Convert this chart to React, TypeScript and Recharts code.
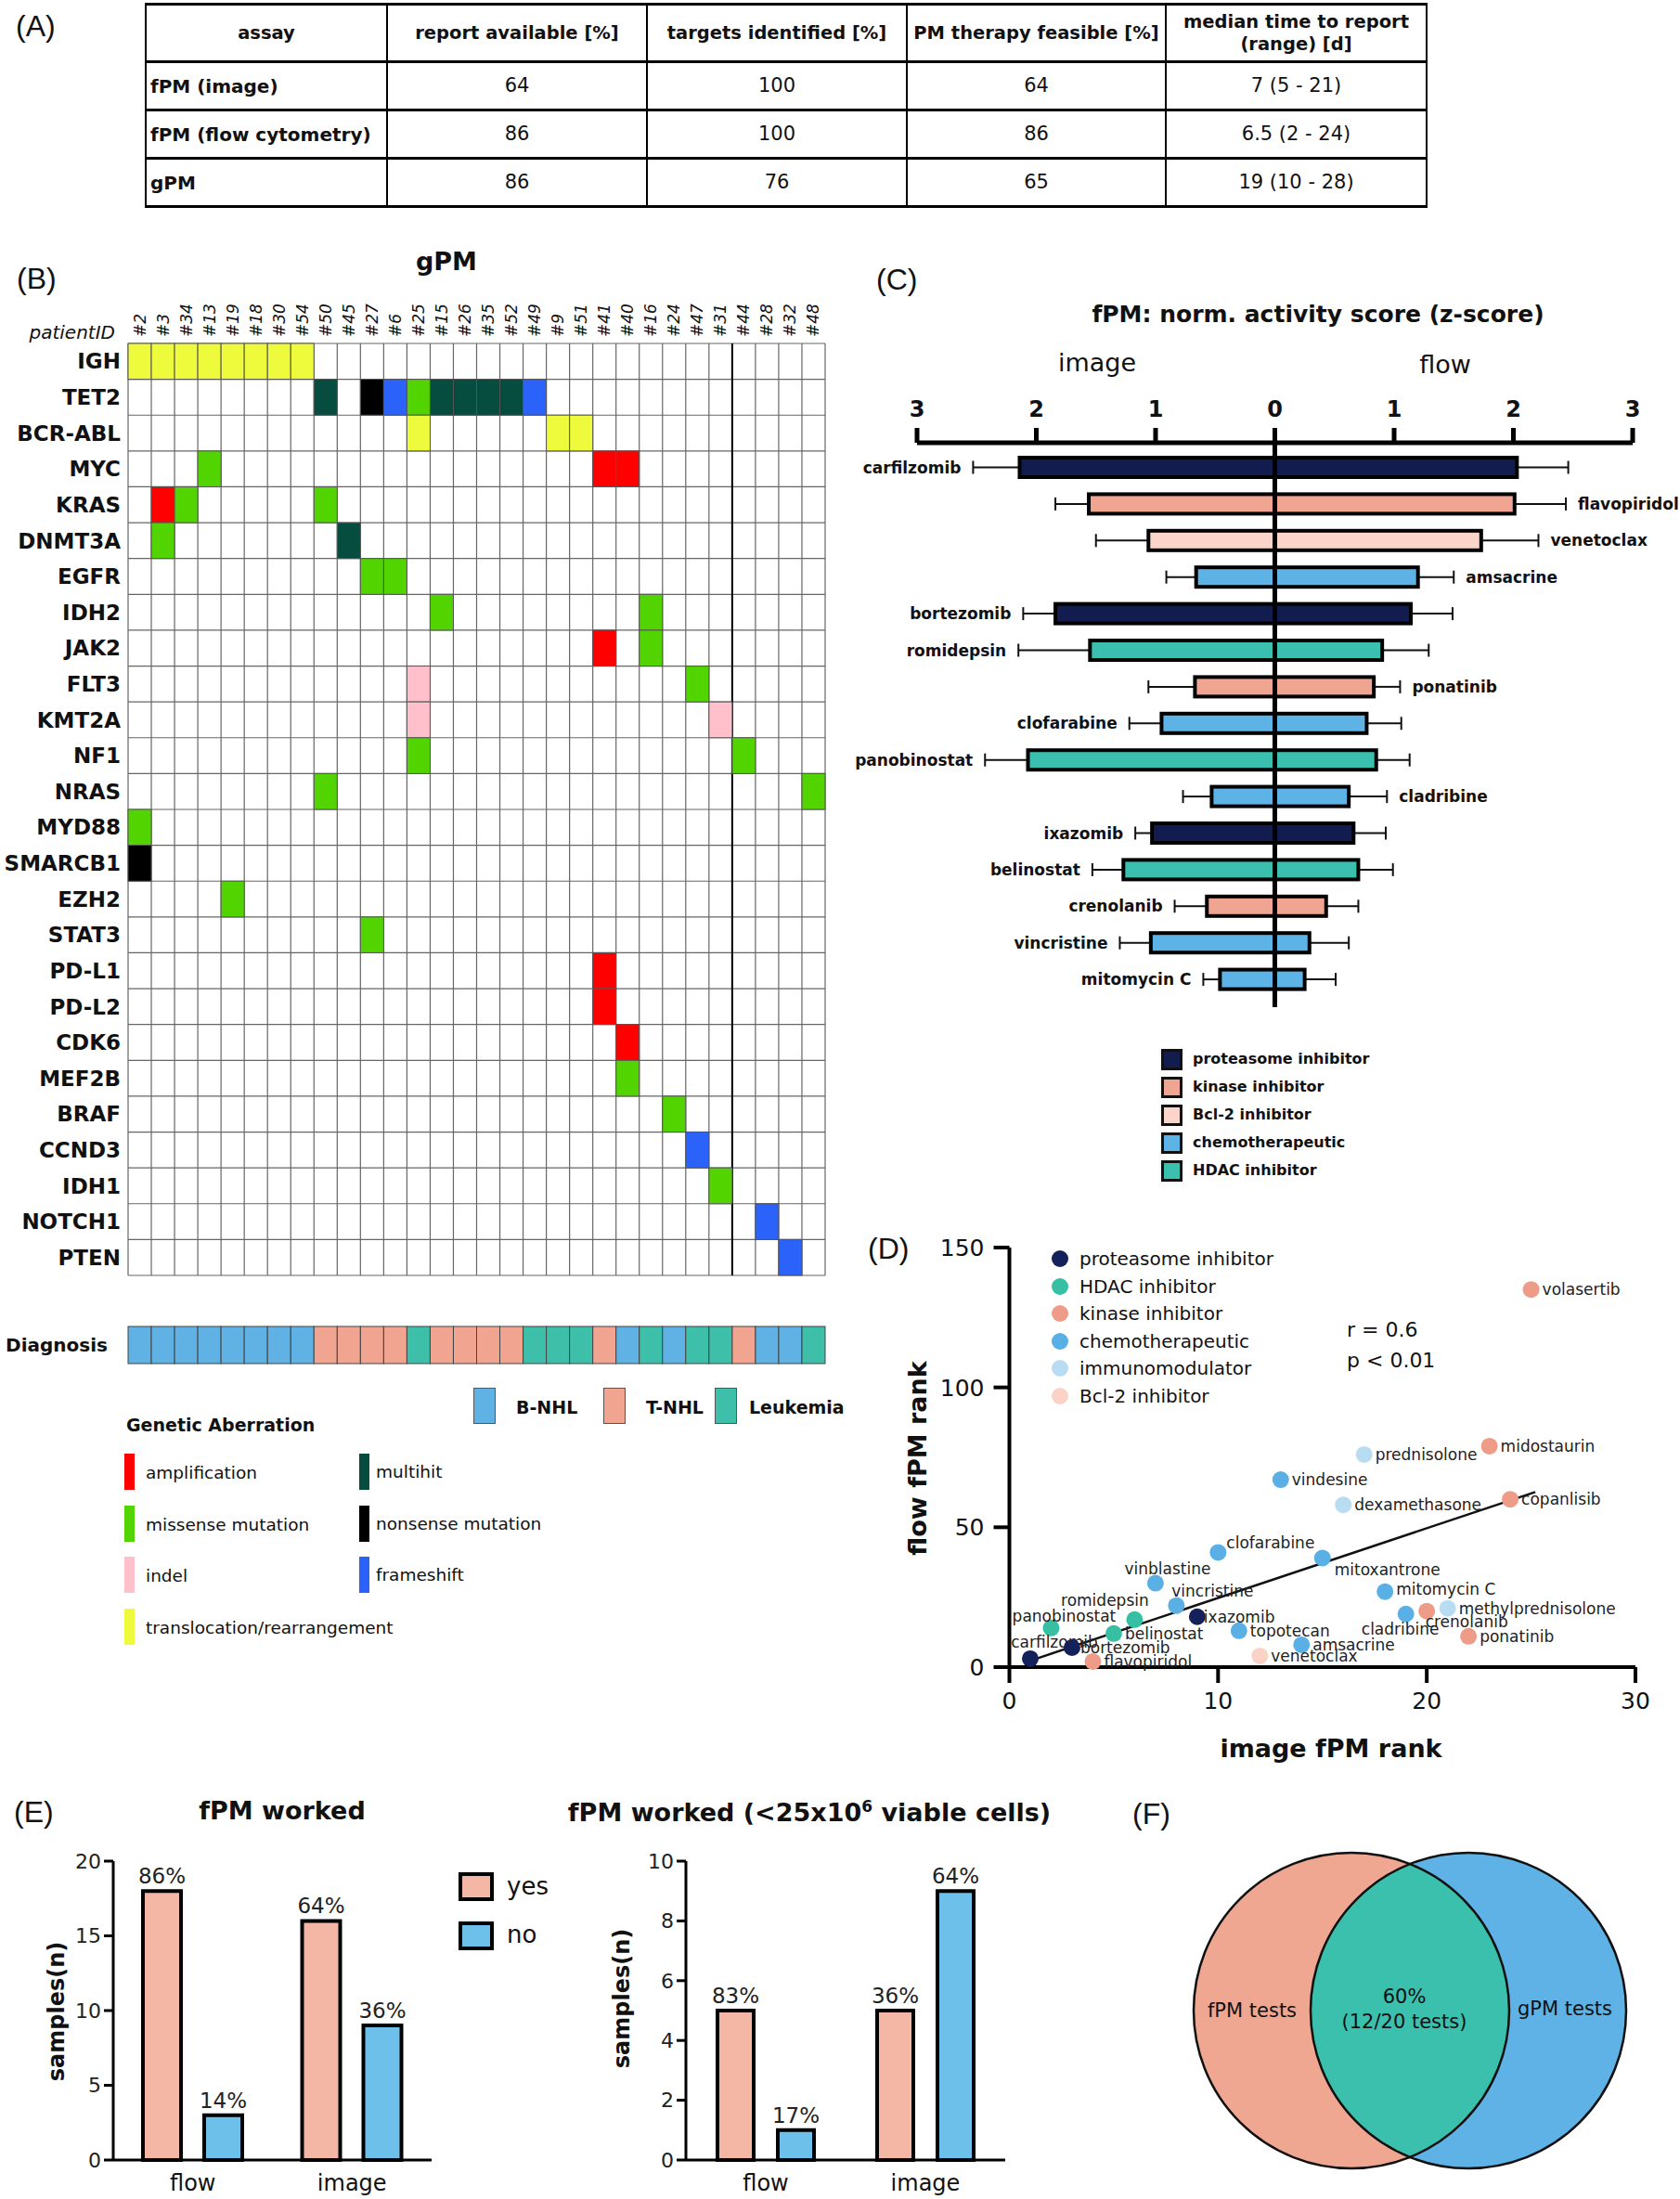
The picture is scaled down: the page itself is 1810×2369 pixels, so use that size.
import React from 'react';
import {
  BarChart,
  Bar,
  XAxis,
  YAxis,
  ReferenceLine,
  ScatterChart,
  Scatter,
  LabelList,
} from 'recharts';

const SANS = '"DejaVu Sans", sans-serif';
const ARIAL = '"Liberation Sans", Arial, sans-serif';

// ---------- (A) summary table ----------
const tableHead = ['assay', 'report available [%]', 'targets identified [%]', 'PM therapy feasible [%]', 'median time to report\n(range) [d]'];
const tableAssays = ['fPM (image)', 'fPM (flow cytometry)', 'gPM'];
const reportAvailable = ['64', '86', '86'];
const targetsIdentified = ['100', '100', '76'];
const therapyFeasible = ['64', '86', '65'];
const timeToReport = ['7 (5 - 21)', '6.5 (2 - 24)', '19 (10 - 28)'];

// ---------- (B) gPM heatmap ----------
const patients = ['#2', '#3', '#34', '#13', '#19', '#18', '#30', '#54', '#50', '#45', '#27', '#6', '#25', '#15', '#26', '#35', '#52', '#49', '#9', '#51', '#41', '#40', '#16', '#24', '#47', '#31', '#44', '#28', '#32', '#48'];
const genes = ['IGH', 'TET2', 'BCR-ABL', 'MYC', 'KRAS', 'DNMT3A', 'EGFR', 'IDH2', 'JAK2', 'FLT3', 'KMT2A', 'NF1', 'NRAS', 'MYD88', 'SMARCB1', 'EZH2', 'STAT3', 'PD-L1', 'PD-L2', 'CDK6', 'MEF2B', 'BRAF', 'CCND3', 'IDH1', 'NOTCH1', 'PTEN'];
// [gene, patient, aberration]
const aberrations = [
  ['IGH', '#2', 'trans'], ['IGH', '#3', 'trans'], ['IGH', '#34', 'trans'], ['IGH', '#13', 'trans'],
  ['IGH', '#19', 'trans'], ['IGH', '#18', 'trans'], ['IGH', '#30', 'trans'], ['IGH', '#54', 'trans'],
  ['TET2', '#50', 'multi'], ['TET2', '#27', 'non'], ['TET2', '#6', 'fs'], ['TET2', '#25', 'mis'],
  ['TET2', '#15', 'multi'], ['TET2', '#26', 'multi'], ['TET2', '#35', 'multi'], ['TET2', '#52', 'multi'], ['TET2', '#49', 'fs'],
  ['BCR-ABL', '#25', 'trans'], ['BCR-ABL', '#9', 'trans'], ['BCR-ABL', '#51', 'trans'],
  ['MYC', '#13', 'mis'], ['MYC', '#41', 'amp'], ['MYC', '#40', 'amp'],
  ['KRAS', '#3', 'amp'], ['KRAS', '#34', 'mis'], ['KRAS', '#50', 'mis'],
  ['DNMT3A', '#3', 'mis'], ['DNMT3A', '#45', 'multi'],
  ['EGFR', '#27', 'mis'], ['EGFR', '#6', 'mis'],
  ['IDH2', '#15', 'mis'], ['IDH2', '#16', 'mis'],
  ['JAK2', '#41', 'amp'], ['JAK2', '#16', 'mis'],
  ['FLT3', '#25', 'indel'], ['FLT3', '#47', 'mis'],
  ['KMT2A', '#25', 'indel'], ['KMT2A', '#31', 'indel'],
  ['NF1', '#25', 'mis'], ['NF1', '#44', 'mis'],
  ['NRAS', '#50', 'mis'], ['NRAS', '#48', 'mis'],
  ['MYD88', '#2', 'mis'], ['SMARCB1', '#2', 'non'], ['EZH2', '#19', 'mis'], ['STAT3', '#27', 'mis'],
  ['PD-L1', '#41', 'amp'], ['PD-L2', '#41', 'amp'], ['CDK6', '#40', 'amp'], ['MEF2B', '#40', 'mis'],
  ['BRAF', '#24', 'mis'], ['CCND3', '#47', 'fs'], ['IDH1', '#31', 'mis'], ['NOTCH1', '#28', 'fs'], ['PTEN', '#32', 'fs'],
];
const diagnosis = ['B', 'B', 'B', 'B', 'B', 'B', 'B', 'B', 'T', 'T', 'T', 'T', 'L', 'T', 'T', 'T', 'T', 'L', 'L', 'L', 'T', 'B', 'L', 'B', 'L', 'L', 'T', 'B', 'B', 'L'];
const diagnosisNames = [['B', 'B-NHL'], ['T', 'T-NHL'], ['L', 'Leukemia']];
const aberrationLegendLeft = [['amp', 'amplification'], ['mis', 'missense mutation'], ['indel', 'indel'], ['trans', 'translocation/rearrangement']];
const aberrationLegendRight = [['multi', 'multihit'], ['non', 'nonsense mutation'], ['fs', 'frameshift']];

const aberrationColors: Record<string, string> = {
  amp: '#ff0000', mis: '#52d400', indel: '#ffc0cb', trans: '#eefb3d', multi: '#064d3f', non: '#000000', fs: '#2b63fa',
};
const diagnosisColors: Record<string, string> = { B: '#5fb2e3', T: '#f1a590', L: '#3dbfa9' };

// ---------- (C) fPM activity score ----------
const drugsC = ['carfilzomib', 'flavopiridol', 'venetoclax', 'amsacrine', 'bortezomib', 'romidepsin', 'ponatinib', 'clofarabine', 'panobinostat', 'cladribine', 'ixazomib', 'belinostat', 'crenolanib', 'vincristine', 'mitomycin C'];
const classC = ['proteasome', 'kinase', 'bcl2', 'chemo', 'proteasome', 'hdac', 'kinase', 'chemo', 'hdac', 'chemo', 'proteasome', 'hdac', 'kinase', 'chemo', 'chemo'];
const imageScore = [2.14, 1.56, 1.06, 0.66, 1.84, 1.55, 0.67, 0.95, 2.07, 0.53, 1.03, 1.27, 0.57, 1.04, 0.46];
const imageErr = [0.39, 0.28, 0.44, 0.25, 0.27, 0.6, 0.39, 0.27, 0.36, 0.24, 0.14, 0.26, 0.27, 0.26, 0.14];
const flowScore = [2.03, 2.01, 1.73, 1.2, 1.14, 0.9, 0.83, 0.77, 0.85, 0.62, 0.66, 0.7, 0.43, 0.29, 0.25];
const flowErr = [0.43, 0.43, 0.48, 0.3, 0.35, 0.39, 0.22, 0.29, 0.28, 0.32, 0.27, 0.29, 0.27, 0.33, 0.26];
const labelSideC = ['left', 'right', 'right', 'right', 'left', 'left', 'right', 'left', 'left', 'right', 'left', 'left', 'left', 'left', 'left'];
const zTicks = [-3, -2, -1, 0, 1, 2, 3];
const classLegendC = [['proteasome', 'proteasome inhibitor'], ['kinase', 'kinase inhibitor'], ['bcl2', 'Bcl-2 inhibitor'], ['chemo', 'chemotherapeutic'], ['hdac', 'HDAC inhibitor']];
const classColorsC: Record<string, string> = {
  proteasome: '#131c4e', kinase: '#efa591', bcl2: '#fbd5ca', chemo: '#5db3e5', hdac: '#3bbfae',
};

// ---------- (D) rank correlation ----------
const drugsD = ['volasertib', 'midostaurin', 'prednisolone', 'vindesine', 'dexamethasone', 'copanlisib', 'clofarabine', 'mitoxantrone', 'vinblastine', 'mitomycin C', 'vincristine', 'ixazomib', 'romidepsin', 'panobinostat', 'belinostat', 'topotecan', 'cladribine', 'crenolanib', 'methylprednisolone', 'ponatinib', 'amsacrine', 'carfilzomib', 'bortezomib', 'flavopiridol', 'venetoclax'];
const imageRank = [25, 23, 17, 13, 16, 24, 10, 15, 7, 18, 8, 9, 6, 2, 5, 11, 19, 20, 21, 22, 14, 1, 3, 4, 12];
const flowRank = [135, 79, 76, 67, 58, 60, 41, 39, 30, 27, 22, 18, 17, 14, 12, 13, 19, 20, 21, 11, 8, 3, 7, 2, 4];
const classD = ['kinase', 'kinase', 'immuno', 'chemo', 'immuno', 'kinase', 'chemo', 'chemo', 'chemo', 'chemo', 'chemo', 'proteasome', 'hdac', 'hdac', 'hdac', 'chemo', 'chemo', 'kinase', 'immuno', 'kinase', 'chemo', 'proteasome', 'proteasome', 'kinase', 'bcl2'];
const fitLine = [{ x: 1, y: 2.3 }, { x: 25.2, y: 62.6 }];
const classLegendD = [['proteasome', 'proteasome inhibitor'], ['hdac', 'HDAC inhibitor'], ['kinase', 'kinase inhibitor'], ['chemo', 'chemotherapeutic'], ['immuno', 'immunomodulator'], ['bcl2', 'Bcl-2 inhibitor']];
const classColorsD: Record<string, string> = {
  proteasome: '#14215a', hdac: '#36bfa2', kinase: '#ee9c87', chemo: '#5aafe4', immuno: '#b8dcf2', bcl2: '#fbd2c6',
};
// label offset from the dot: [dx, dy, anchor]
const labelPlacement: Record<string, [number, number, string]> = {
  clofarabine: [9, -10, 'start'],
  mitoxantrone: [13, 13, 'start'],
  vinblastine: [13, -16, 'middle'],
  romidepsin: [-32, -21, 'middle'],
  vincristine: [39, -16, 'middle'],
  panobinostat: [14, -13, 'middle'],
  ixazomib: [7, 0, 'start'],
  carfilzomib: [26, -18, 'middle'],
  bortezomib: [9, 0, 'start'],
  cladribine: [-6, 16, 'middle'],
  crenolanib: [43, 11, 'middle'],
  'mitomycin C': [12, -3, 'start'],
};

// ---------- (E) fPM worked ----------
const workedCats = ['flow', 'image'];
const workedYes = [18, 16];
const workedNo = [3, 9];
const workedYesPct = ['86%', '64%'];
const workedNoPct = ['14%', '36%'];
const lowYes = [5, 5];
const lowNo = [1, 9];
const lowYesPct = ['83%', '36%'];
const lowNoPct = ['17%', '64%'];

// ---------- (F) venn ----------
const vennSets = ['fPM tests', 'gPM tests'];
const vennOverlap = '60%';
const vennOverlapDetail = '(12/20 tests)';

function Txt({ x, y, size = 20, bold = false, italic = false, anchor = 'start', font = SANS, rotate = 0, color = '#111', children }: any) {
  const tx = anchor === 'start' ? '0' : anchor === 'middle' ? '-50%' : '-100%';
  return (
    <div
      style={{
        position: 'absolute',
        left: x,
        top: y,
        transform: `translate(${tx}, -50%)${rotate ? ` rotate(${rotate}deg)` : ''}`,
        fontSize: size,
        fontWeight: bold ? 'bold' : 'normal',
        fontStyle: italic ? 'italic' : 'normal',
        fontFamily: font,
        color,
        whiteSpace: 'nowrap',
        lineHeight: 1,
      }}
    >
      {children}
    </div>
  );
}

function SummaryTable() {
  const colW = [260, 280, 280, 279, 281];
  const base: React.CSSProperties = {
    borderLeft: '2px solid #000',
    borderRight: '2px solid #000',
    borderTop: '3px solid #000',
    borderBottom: '3px solid #000',
    padding: '0 4px',
    verticalAlign: 'middle',
    lineHeight: 1.2,
    textAlign: 'center',
    whiteSpace: 'nowrap',
    overflow: 'hidden',
  };
  const rows = tableAssays.map((a, i) => [a, reportAvailable[i], targetsIdentified[i], therapyFeasible[i], timeToReport[i]]);
  return (
    <table
      style={{
        position: 'absolute',
        left: 156,
        top: 3,
        borderCollapse: 'collapse',
        tableLayout: 'fixed',
        fontFamily: SANS,
        color: '#111',
      }}
    >
      <colgroup>
        {colW.map((w, i) => (
          <col key={i} style={{ width: w }} />
        ))}
      </colgroup>
      <tbody>
        <tr style={{ height: 62 }}>
          {tableHead.map((h, i) => (
            <td key={i} style={{ ...base, fontWeight: 'bold', fontSize: 19.5 }}>
              {h.split('\n').map((s, j) => (
                <div key={j}>{s}</div>
              ))}
            </td>
          ))}
        </tr>
        {rows.map((r, ri) => (
          <tr key={ri} style={{ height: 52 }}>
            {r.map((v, ci) => (
              <td
                key={ci}
                style={{
                  ...base,
                  fontSize: ci === 0 ? 20 : 21,
                  fontWeight: ci === 0 ? 'bold' : 'normal',
                  textAlign: ci === 0 ? 'left' : 'center',
                }}
              >
                {v}
              </td>
            ))}
          </tr>
        ))}
      </tbody>
    </table>
  );
}

// heatmap geometry
const HM_W = 900;
const HM_H = 1150;
const HM_LEFT = 138;
const HM_AXIS_TOP = 130;
const HM_RIGHT = 11;
const HM_BOTTOM = 16;
const cellW = (HM_W - HM_LEFT - HM_RIGHT) / patients.length;
const cellH = (HM_H - HM_AXIS_TOP - HM_BOTTOM) / genes.length;
const DG_H = 60;
const dgCellH = DG_H - 20;

const heatCells = aberrations.map(([g, p, t]) => ({ x: patients.indexOf(p) + 0.5, y: genes.indexOf(g) + 0.5, type: t }));
const diagCells = diagnosis.map((d, i) => ({ x: i + 0.5, y: 0.5, d }));

const PatientTick = (props: any) => {
  const { x, y, payload } = props;
  return (
    <text
      transform={`translate(${x + 6},${y}) rotate(-90)`}
      fontSize={17}
      fontStyle="italic"
      textAnchor="start"
      fill="#111"
    >
      {patients[Math.floor(payload.value)]}
    </text>
  );
};

function Heatmap() {
  return (
    <ScatterChart width={HM_W} height={HM_H} margin={{ top: 0, right: HM_RIGHT, bottom: HM_BOTTOM, left: 0 }}>
      <XAxis
        type="number"
        dataKey="x"
        orientation="top"
        height={HM_AXIS_TOP}
        domain={[0, patients.length]}
        ticks={patients.map((_, i) => i + 0.5)}
        interval={0}
        tick={PatientTick}
        axisLine={false}
        tickLine={false}
        tickSize={0}
        tickMargin={7}
      />
      <YAxis
        type="number"
        dataKey="y"
        reversed
        width={HM_LEFT}
        domain={[0, genes.length]}
        ticks={genes.map((_, i) => i + 0.5)}
        interval={0}
        tickFormatter={(v: number) => genes[Math.floor(v)]}
        tick={{ fontSize: 23, fontWeight: 'bold', fill: '#111' }}
        axisLine={false}
        tickLine={false}
        tickSize={0}
        tickMargin={8}
      />
      <Scatter
        data={heatCells}
        isAnimationActive={false}
        shape={(p: any) => (
          <rect
            x={p.cx - cellW / 2}
            y={p.cy - cellH / 2}
            width={cellW}
            height={cellH}
            fill={aberrationColors[p.payload.type]}
            stroke="#555"
            strokeWidth={1}
          />
        )}
      />
      {Array.from({ length: genes.length + 1 }, (_, j) => (
        <ReferenceLine key={'h' + j} y={j} stroke="#666" strokeWidth={1.2} />
      ))}
      {Array.from({ length: patients.length + 1 }, (_, i) => (
        <ReferenceLine key={'v' + i} x={i} stroke={i === 26 ? '#000' : '#666'} strokeWidth={i === 26 ? 2 : 1.2} />
      ))}
    </ScatterChart>
  );
}

function DiagnosisRow() {
  return (
    <ScatterChart width={HM_W} height={DG_H} margin={{ top: 9, right: HM_RIGHT, bottom: 11, left: 0 }}>
      <XAxis type="number" dataKey="x" hide domain={[0, patients.length]} />
      <YAxis
        type="number"
        dataKey="y"
        width={HM_LEFT}
        domain={[0, 1]}
        ticks={[0.5]}
        tickFormatter={() => 'Diagnosis'}
        tick={{ fontSize: 20, fontWeight: 'bold', fill: '#111' }}
        axisLine={false}
        tickLine={false}
        tickSize={0}
        tickMargin={22}
      />
      <Scatter
        data={diagCells}
        isAnimationActive={false}
        shape={(p: any) => (
          <rect
            x={p.cx - cellW / 2}
            y={p.cy - dgCellH / 2}
            width={cellW}
            height={dgCellH}
            fill={diagnosisColors[p.payload.d]}
            stroke="#444"
            strokeWidth={1}
          />
        )}
      />
    </ScatterChart>
  );
}

// ---------- (C) ----------
const scoreData = drugsC.map((d, i) => ({ drug: d, idx: i, cls: classC[i], image: -imageScore[i], flow: flowScore[i] }));

function makeScoreShape(side: 'image' | 'flow') {
  return (props: any) => {
    const { x, y, width, height, payload } = props;
    const i = payload.idx;
    const raw = side === 'image' ? imageScore[i] : flowScore[i];
    const err = side === 'image' ? imageErr[i] : flowErr[i];
    const left = Math.min(x, x + width);
    const right = Math.max(x, x + width);
    const w = right - left;
    const ppu = raw ? w / raw : 0;
    const cy = y + height / 2;
    const edge = side === 'image' ? left : right;
    const end = side === 'image' ? left - err * ppu : right + err * ppu;
    const showLabel = labelSideC[i] === (side === 'image' ? 'left' : 'right');
    return (
      <g>
        <line x1={edge} x2={end} y1={cy} y2={cy} stroke="#111" strokeWidth={2} />
        <line x1={end} x2={end} y1={cy - 7} y2={cy + 7} stroke="#111" strokeWidth={2} />
        <rect x={left} y={y} width={w} height={height} fill={classColorsC[payload.cls]} stroke="#000" strokeWidth={4} />
        {showLabel && (
          <text
            x={side === 'image' ? end - 13 : end + 13}
            y={cy}
            textAnchor={side === 'image' ? 'end' : 'start'}
            dominantBaseline="central"
            fontSize={17}
            fontWeight="bold"
            fill="#111"
          >
            {payload.drug}
          </text>
        )}
      </g>
    );
  };
}

function ScoreChart() {
  return (
    <BarChart
      width={910}
      height={710}
      data={scoreData}
      layout="vertical"
      stackOffset="sign"
      margin={{ top: 47, right: 51, bottom: 5, left: 88 }}
    >
      <XAxis
        type="number"
        orientation="top"
        height={50}
        domain={[-3, 3]}
        ticks={zTicks}
        interval={0}
        tickFormatter={(v: number) => String(Math.abs(v))}
        tick={{ fontSize: 24, fontWeight: 'bold', fill: '#111' }}
        axisLine={{ stroke: '#000', strokeWidth: 5 }}
        tickLine={{ stroke: '#000', strokeWidth: 5 }}
        tickSize={16}
        tickMargin={12}
      />
      <YAxis type="category" dataKey="drug" hide padding={{ top: 7, bottom: 10 }} />
      <Bar dataKey="image" stackId="s" barSize={21} isAnimationActive={false} shape={makeScoreShape('image')} />
      <Bar dataKey="flow" stackId="s" barSize={21} isAnimationActive={false} shape={makeScoreShape('flow')} />
      <ReferenceLine x={0} stroke="#000" strokeWidth={5} />
    </BarChart>
  );
}

// ---------- (D) ----------
const rankPoints = drugsD.map((d, i) => ({ name: d, x: imageRank[i], y: flowRank[i], cls: classD[i] }));

const RankDot = (p: any) => {
  const { cx, cy, payload } = p;
  const [dx, dy, anchor] = labelPlacement[payload.name] ?? [12, 0, 'start'];
  return (
    <g>
      <circle cx={cx} cy={cy} r={9} fill={classColorsD[payload.cls]} />
      <text x={cx + dx} y={cy + dy} textAnchor={anchor} dominantBaseline="central" fontSize={17} fill="#222">
        {payload.name}
      </text>
    </g>
  );
};

function RankChart() {
  return (
    <ScatterChart width={890} height={580} margin={{ top: 24, right: 48, bottom: 4, left: 50 }}>
      <XAxis
        type="number"
        dataKey="x"
        domain={[0, 30]}
        ticks={[0, 10, 20, 30]}
        height={100}
        tick={{ fontSize: 25, fill: '#111' }}
        axisLine={{ stroke: '#000', strokeWidth: 4 }}
        tickLine={{ stroke: '#000', strokeWidth: 4 }}
        tickSize={17}
        tickMargin={10}
      />
      <YAxis
        type="number"
        dataKey="y"
        domain={[0, 150]}
        ticks={[0, 50, 100, 150]}
        width={117.5}
        tick={{ fontSize: 25, fill: '#111' }}
        axisLine={{ stroke: '#000', strokeWidth: 4 }}
        tickLine={{ stroke: '#000', strokeWidth: 4 }}
        tickSize={17}
        tickMargin={10}
      />
      <Scatter
        data={fitLine}
        line={{ stroke: '#111', strokeWidth: 2.5 }}
        shape={() => <g />}
        isAnimationActive={false}
      />
      <Scatter data={rankPoints} shape={RankDot} isAnimationActive={false} />
    </ScatterChart>
  );
}

// ---------- (E) ----------
const workedData = workedCats.map((c, i) => ({ cat: c, yes: workedYes[i], no: workedNo[i], yesPct: workedYesPct[i], noPct: workedNoPct[i] }));
const lowCellData = workedCats.map((c, i) => ({ cat: c, yes: lowYes[i], no: lowNo[i], yesPct: lowYesPct[i], noPct: lowNoPct[i] }));

function WorkedChart({ data, max, ticks, width, axisW, right, barSize, barGap }: any) {
  return (
    <BarChart
      width={width}
      height={379}
      data={data}
      barGap={barGap}
      margin={{ top: 15, right, bottom: 0, left: 0 }}
    >
      <XAxis
        dataKey="cat"
        height={42}
        tick={{ fontSize: 24, fill: '#111' }}
        axisLine={{ stroke: '#000', strokeWidth: 3 }}
        tickLine={false}
        tickSize={0}
        tickMargin={16}
      />
      <YAxis
        type="number"
        domain={[0, max]}
        ticks={ticks}
        interval={0}
        width={axisW}
        tick={{ fontSize: 22, fill: '#222' }}
        axisLine={{ stroke: '#000', strokeWidth: 3 }}
        tickLine={{ stroke: '#000', strokeWidth: 3 }}
        tickSize={10}
        tickMargin={3}
      />
      <Bar dataKey="yes" fill="#f4b7a6" stroke="#000" strokeWidth={4} barSize={barSize} isAnimationActive={false}>
        <LabelList dataKey="yesPct" position="top" offset={8} fontSize={23} fill="#222" />
      </Bar>
      <Bar dataKey="no" fill="#6cc0e9" stroke="#000" strokeWidth={4} barSize={barSize} isAnimationActive={false}>
        <LabelList dataKey="noPct" position="top" offset={8} fontSize={23} fill="#222" />
      </Bar>
    </BarChart>
  );
}

// ---------- (F) ----------
const vennPoints = vennSets.map((s, i) => ({ x: i, y: 0.5, i }));
const VENN_R = 170;
const vennFill = ['#efa791', '#5eb2e5'];

function VennChart() {
  return (
    <ScatterChart width={567} height={406} margin={{ top: 0, right: 0, bottom: 0, left: 0 }}>
      <XAxis type="number" dataKey="x" hide domain={[-2, 2.5]} />
      <YAxis type="number" dataKey="y" hide domain={[0, 1]} />
      <Scatter
        data={vennPoints}
        isAnimationActive={false}
        shape={(p: any) => (
          <g>
            {p.payload.i === 1 && (
              <defs>
                <clipPath id="gpmClip">
                  <circle cx={p.cx} cy={p.cy} r={VENN_R} />
                </clipPath>
              </defs>
            )}
            <circle cx={p.cx} cy={p.cy} r={VENN_R} fill={vennFill[p.payload.i]} />
          </g>
        )}
      />
      <Scatter
        data={vennPoints.slice(0, 1)}
        isAnimationActive={false}
        shape={(p: any) => <circle cx={p.cx} cy={p.cy} r={VENN_R} fill="#3cc0ae" clipPath="url(#gpmClip)" />}
      />
      <Scatter
        data={vennPoints}
        isAnimationActive={false}
        shape={(p: any) => <circle cx={p.cx} cy={p.cy} r={VENN_R} fill="none" stroke="#111" strokeWidth={2.5} />}
      />
    </ScatterChart>
  );
}

const abs = (left: number, top: number): React.CSSProperties => ({ position: 'absolute', left, top });

export default function App() {
  return (
    <div
      style={{
        position: 'absolute',
        left: 0,
        top: 0,
        width: 1810,
        height: 2369,
        background: '#fff',
        overflow: 'hidden',
        fontFamily: SANS,
        color: '#111',
      }}
    >
      {/* (A) */}
      <Txt x={17} y={28} size={32} font={ARIAL}>(A)</Txt>
      <SummaryTable />

      {/* (B) */}
      <Txt x={18} y={300} size={32} font={ARIAL}>(B)</Txt>
      <Txt x={481} y={281} size={27} bold anchor="middle">gPM</Txt>
      <Txt x={124} y={358} size={20} italic anchor="end">patientID</Txt>
      <div style={abs(0, 240)}>
        <Heatmap />
      </div>
      <div style={abs(0, 1420)}>
        <DiagnosisRow />
      </div>
      {diagnosisNames.map(([k, name], i) => {
        const sx = [510, 650, 770][i];
        return (
          <React.Fragment key={k}>
            <div style={{ ...abs(sx, 1495), width: 22, height: 37, background: diagnosisColors[k], border: '1px solid #555' }} />
            <Txt x={sx + 46 - (i === 2 ? 9 : 0)} y={1516} size={19} bold>{name}</Txt>
          </React.Fragment>
        );
      })}
      <Txt x={136} y={1535} size={19} bold>Genetic Aberration</Txt>
      {aberrationLegendLeft.map(([k, name], i) => (
        <React.Fragment key={k}>
          <div style={{ ...abs(134, 1566 + i * 55.5), width: 11, height: 39, background: aberrationColors[k] }} />
          <Txt x={157} y={1587 + i * 55.5} size={18.5}>{name}</Txt>
        </React.Fragment>
      ))}
      {aberrationLegendRight.map(([k, name], i) => (
        <React.Fragment key={k}>
          <div style={{ ...abs(387, 1566 + i * 55.5), width: 11, height: 39, background: aberrationColors[k] }} />
          <Txt x={405} y={1586 + i * 55.5} size={18.5}>{name}</Txt>
        </React.Fragment>
      ))}

      {/* (C) */}
      <Txt x={944} y={301} size={32} font={ARIAL}>(C)</Txt>
      <Txt x={1420} y={338} size={25} bold anchor="middle">fPM: norm. activity score (z-score)</Txt>
      <Txt x={1182} y={390} size={27} anchor="middle">image</Txt>
      <Txt x={1557} y={392} size={27} anchor="middle">flow</Txt>
      <div style={abs(900, 380)}>
        <ScoreChart />
      </div>
      {classLegendC.map(([k, name], i) => (
        <React.Fragment key={k}>
          <div
            style={{
              ...abs(1251, 1130 + i * 30),
              width: 17,
              height: 17,
              background: classColorsC[k],
              border: '3px solid #111',
            }}
          />
          <Txt x={1285} y={1141 + i * 30} size={16} bold>{name}</Txt>
        </React.Fragment>
      ))}

      {/* (D) */}
      <Txt x={935} y={1345} size={32} font={ARIAL}>(D)</Txt>
      <div style={abs(920, 1320)}>
        <RankChart />
      </div>
      {classLegendD.map(([k, name], i) => (
        <React.Fragment key={k}>
          <div
            style={{
              ...abs(1133, 1347 + i * 29.6),
              width: 18,
              height: 18,
              borderRadius: 9,
              background: classColorsD[k],
            }}
          />
          <Txt x={1163} y={1356 + i * 29.6} size={20}>{name}</Txt>
        </React.Fragment>
      ))}
      <Txt x={1451} y={1433} size={22}>r = 0.6</Txt>
      <Txt x={1451} y={1466} size={22}>p &lt; 0.01</Txt>
      <Txt x={988} y={1571} size={27} bold anchor="middle" rotate={-90}>flow fPM rank</Txt>
      <Txt x={1434} y={1883} size={27} bold anchor="middle">image fPM rank</Txt>

      {/* (E) */}
      <Txt x={15} y={1952} size={32} font={ARIAL}>(E)</Txt>
      <Txt x={304} y={1950} size={27} bold anchor="middle">fPM worked</Txt>
      <Txt x={872} y={1952} size={27} bold anchor="middle">
        fPM worked (&lt;25x10<sup style={{ fontSize: 17 }}>6</sup> viable cells)
      </Txt>
      <div style={abs(0, 1990)}>
        <WorkedChart data={workedData} max={20} ticks={[0, 5, 10, 15, 20]} width={480} axisW={122} right={15} barSize={41} barGap={25} />
      </div>
      <div style={abs(600, 1990)}>
        <WorkedChart data={lowCellData} max={10} ticks={[0, 2, 4, 6, 8, 10]} width={500} axisW={139} right={17} barSize={39} barGap={26} />
      </div>
      <Txt x={61} y={2167} size={24} bold anchor="middle" rotate={-90}>samples(n)</Txt>
      <Txt x={670} y={2153} size={24} bold anchor="middle" rotate={-90}>samples(n)</Txt>
      <div style={{ ...abs(494, 2017), width: 30, height: 23, background: '#f4b7a6', border: '4px solid #000' }} />
      <Txt x={546} y={2032} size={26}>yes</Txt>
      <div style={{ ...abs(494, 2070), width: 30, height: 23, background: '#6cc0e9', border: '4px solid #000' }} />
      <Txt x={546} y={2084} size={26}>no</Txt>

      {/* (F) */}
      <Txt x={1220} y={1954} size={32} font={ARIAL}>(F)</Txt>
      <div style={abs(1203.5, 1963)}>
        <VennChart />
      </div>
      <Txt x={1349} y={2166} size={21} anchor="middle">{vennSets[0]}</Txt>
      <Txt x={1686} y={2164} size={21} anchor="middle">{vennSets[1]}</Txt>
      <Txt x={1513} y={2151} size={21} anchor="middle">{vennOverlap}</Txt>
      <Txt x={1513} y={2178} size={21} anchor="middle">{vennOverlapDetail}</Txt>
    </div>
  );
}
